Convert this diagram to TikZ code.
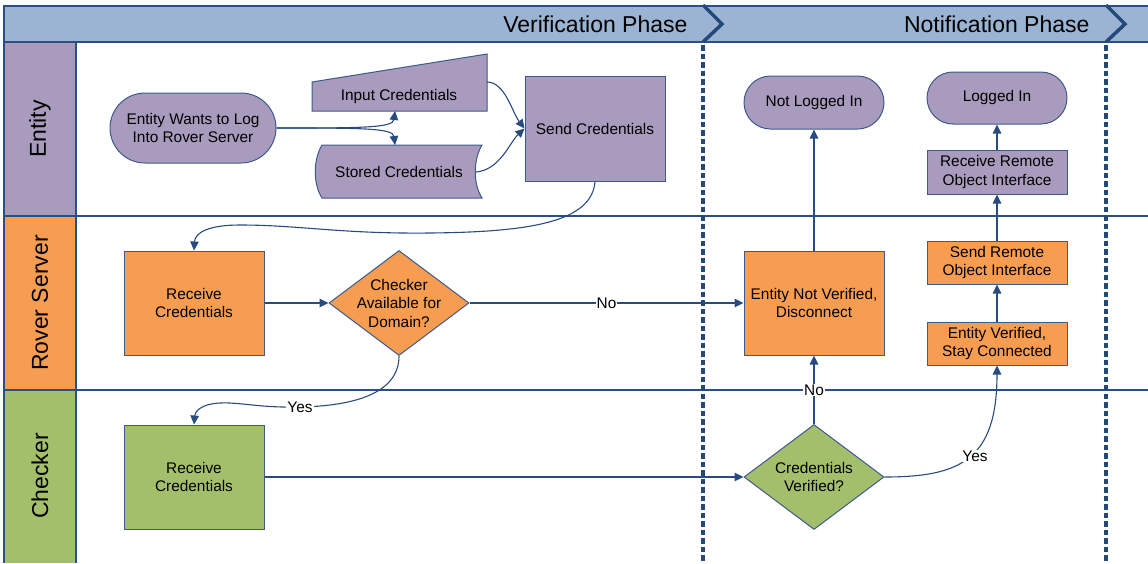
\documentclass[tikz,border=0pt]{standalone}
\usepackage{fontspec}
\setmainfont{Liberation Sans}
\usetikzlibrary{shapes.geometric,shapes.misc,arrows.meta}
\definecolor{headfill}{RGB}{155,180,211}
\definecolor{lanecol}{RGB}{41,79,133}
\definecolor{chevcol}{RGB}{36,72,122}
\definecolor{cEnt}{RGB}{169,155,189}
\definecolor{cRov}{RGB}{247,157,82}
\definecolor{cChk}{RGB}{164,191,107}
\definecolor{nodeb}{RGB}{60,90,140}
\definecolor{conncol}{RGB}{40,76,128}
\newcommand\mynodefont{\fontsize{15.4}{18.5}\selectfont}
\newcommand\mybigfont{\fontsize{23}{27}\selectfont}
\tikzset{
  lanebox/.style={draw=nodeb, line width=1pt, inner sep=0pt, align=center, font=\mynodefont, text=black},
  stadium/.style={lanebox, rounded rectangle},
  dia/.style={draw=nodeb, line width=1pt, diamond, inner sep=0pt},
  txt/.style={align=center, font=\mynodefont, text=black, inner sep=0pt},
  flow/.style={draw=conncol, line width=1.1pt, -{Triangle[length=9pt,width=8.5pt]}},
  lbl/.style={fill=white, inner sep=1pt, font=\mynodefont, text=black},
  lanetitle/.style={font=\mybigfont, rotate=90, text=black},
  phasetitle/.style={font=\mybigfont, anchor=base east, text=black},
  sepline/.style={draw=chevcol, line width=3.6pt, dash pattern=on 5.5pt off 3pt},
  chevron/.style={draw=chevcol, line width=3.5pt},
  laneline/.style={draw=lanecol, line width=1.3pt}
}
\begin{document}
\begin{tikzpicture}[x=1pt,y=-1pt]
\useasboundingbox (0,0) rectangle (1148,563);
% header band
\fill[headfill] (4,6) rectangle (1148,42);
% lane label columns
\fill[cEnt] (4,42) rectangle (76,216);
\fill[cRov] (4,216) rectangle (76,390);
\fill[cChk] (4,390) rectangle (76,563);
\draw[laneline] (1148,6) -- (4,6) -- (4,563);
\draw[laneline] (4,42) -- (1148,42);
\draw[laneline] (76,42) -- (76,563);
\draw[laneline] (4,216) -- (1148,216);
\draw[laneline] (4,390) -- (1148,390);
% phase separators
\draw[sepline] (703,45) -- (703,563);
\draw[sepline] (1106,45) -- (1106,563);
\draw[chevron] (703,5) -- (722,24) -- (703,42);
\draw[chevron] (1106,5) -- (1125,24) -- (1106,42);
\node[phasetitle] (ph1) at (691,32) {Verification Phase};
\node[phasetitle] (ph2) at (1093,32) {Notification Phase};
% lane titles
\node[lanetitle] (lt1) at (40,129) {Entity};
\node[lanetitle] (lt2) at (40,303) {Rover Server};
\node[lanetitle] (lt3) at (40,476) {Checker};

% ---- Entity lane
\node[stadium, fill=cEnt, minimum width=166pt, minimum height=70pt] (want) at (193,128) {Entity Wants to Log\\Into Rover Server};
\filldraw[fill=cEnt, draw=nodeb, line width=1pt] (312,82) -- (487,54) -- (487,111) -- (312,111) -- cycle;
\node[txt] (inp) at (399,97) {Input Credentials};
\filldraw[fill=cEnt, draw=nodeb, line width=1pt] (322,145) -- (482,145) .. controls (473,160) and (473,184) .. (482,198) -- (322,198) .. controls (313,184) and (313,160) .. (322,145) -- cycle;
\node[txt] (sto) at (399,172) {Stored Credentials};
\coordinate (inB) at (395,111);
\coordinate (inR) at (487,82);
\coordinate (stT) at (395,145);
\coordinate (stR) at (476,172);
\node[lanebox, fill=cEnt, minimum width=140pt, minimum height=105pt] (send) at (595,128.5) {Send Credentials};
\node[stadium, fill=cEnt, minimum width=140pt, minimum height=53pt] (notlog) at (814,102.5) {Not Logged In};
\node[stadium, fill=cEnt, minimum width=140pt, minimum height=52pt] (logged) at (997,98) {Logged In};
\node[lanebox, fill=cEnt, minimum width=140pt, minimum height=44pt] (recvro) at (997,172) {Receive Remote\\Object Interface};

% ---- Rover Server lane
\node[lanebox, fill=cRov, minimum width=140pt, minimum height=104pt] (recvr) at (194,303) {Receive\\Credentials};
\node[dia, fill=cRov, minimum width=140pt, minimum height=105pt] (avail) at (399,303) {};
\node[txt] (availt) at (avail) {Checker\\Available for\\Domain?};
\node[lanebox, fill=cRov, minimum width=140pt, minimum height=104pt] (notver) at (814,303) {Entity Not Verified,\\Disconnect};
\node[lanebox, fill=cRov, minimum width=140pt, minimum height=43pt] (sendro) at (997,262.5) {Send Remote\\Object Interface};
\node[lanebox, fill=cRov, minimum width=140pt, minimum height=43pt] (entver) at (997,343.5) {Entity Verified,\\Stay Connected};

% ---- Checker lane
\node[lanebox, fill=cChk, minimum width=140pt, minimum height=104pt] (recvc) at (194,477) {Receive\\Credentials};
\node[dia, fill=cChk, minimum width=140pt, minimum height=105pt] (cv) at (814,477) {};
\node[txt] (cvt) at (cv) {Credentials\\Verified?};

% ---- connectors
\draw[flow] (want.east) .. controls (360,128) and (393,128) .. (inB);
\draw[flow] (want.east) .. controls (360,128) and (393,128) .. (stT);
\draw[flow] (inR) .. controls (505,82) and (512,112) .. (send.west);
\draw[flow] (stR) .. controls (500,170) and (510,142) .. (send.west);
\draw[flow] (send.south) .. controls (592,222) and (530,232) .. (430,233) .. controls (340,234) and (300,225) .. (240,225) .. controls (210,225) and (195,232) .. (recvr.north);
\draw[flow] (recvr.east) -- (avail.west);
\draw[flow] (avail.east) -- node[lbl] (no1) {No} (notver.west);
\draw[flow] (avail.south) .. controls (399,395) and (350,406) .. (300,407) .. controls (260,408) and (240,402) .. (220,403) .. controls (200,404) and (195,412) .. (recvc.north);
\node[lbl] (yes1) at (300,407) {Yes};
\draw[flow] (recvc.east) -- (cv.west);
\draw[flow] (cv.north) -- (notver.south);
\node[lbl] (no2) at (814,390) {No};
\draw[flow] (cv.east) .. controls (960,477) and (997,460) .. (entver.south);
\node[lbl] (yes2) at (975,456) {Yes};
\draw[flow] (notver.north) -- (notlog.south);
\draw[flow] (entver.north) -- (sendro.south);
\draw[flow] (sendro.north) -- (recvro.south);
\draw[flow] (recvro.north) -- (logged.south);
\end{tikzpicture}
\end{document}
